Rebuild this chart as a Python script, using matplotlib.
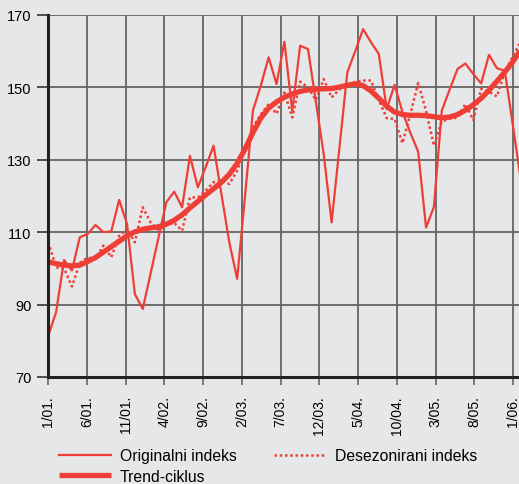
import numpy as np
import matplotlib
matplotlib.use("Agg")
import matplotlib.pyplot as plt

plt.rcParams['font.family'] = ['Liberation Sans', 'DejaVu Sans']

tick_labels = ["1/01.", "6/01.", "11/01.", "4/02.", "9/02.", "2/03.", "7/03.",
               "12/03.", "5/04.", "10/04.", "3/05.", "8/05.", "1/06."]

original = [81.4, 88.0, 102.3, 99.4, 108.6, 109.5, 112.0, 110.0, 110.2, 118.9,
            112.3, 92.9, 88.8, 98.6, 108.5, 118.3, 121.2, 116.9, 131.1, 122.4,
            128.0, 133.9, 120.5, 107.2, 97.1, 120.0, 143.6, 150.5, 158.3, 150.9,
            162.6, 143.5, 161.5, 160.6, 146.0, 131.5, 112.7, 133.5, 154.2, 160.0,
            166.1, 162.5, 159.2, 144.0, 150.7, 143.2, 137.5, 132.2, 111.3, 117.0,
            143.6, 149.4, 155.1, 156.6, 153.7, 151.1, 159.0, 155.3, 154.6, 140.0,
            125.0]

deseasonal = [107.2, 100.3, 100.0, 95.0, 101.5, 103.0, 102.6, 106.3, 103.1, 109.0,
              110.9, 107.2, 116.9, 112.7, 110.5, 112.0, 112.6, 110.4, 119.6, 119.6,
              121.5, 123.8, 124.3, 123.3, 127.0, 133.0, 139.0, 142.5, 145.4, 142.7,
              148.6, 141.7, 151.6, 150.0, 146.5, 152.3, 147.2, 149.5, 150.5, 151.5,
              151.9, 151.9, 146.5, 141.5, 141.3, 134.6, 142.6, 151.2, 143.5, 133.9,
              140.6, 141.3, 141.7, 145.4, 141.0, 149.6, 148.8, 147.5, 154.2, 158.5,
              162.5]

trend = [101.8, 101.3, 100.9, 100.7, 100.9, 101.9, 103.0, 104.5, 106.0, 107.5,
         109.0, 110.1, 110.8, 111.2, 111.5, 112.2, 113.3, 114.8, 116.7, 118.5,
         120.3, 122.0, 123.8, 126.0, 129.0, 133.0, 137.5, 141.5, 144.3, 146.0,
         147.3, 148.2, 148.9, 149.3, 149.5, 149.6, 149.7, 150.1, 150.6, 151.0,
         150.5, 149.0, 147.0, 144.8, 143.2, 142.5, 142.3, 142.3, 142.2, 141.9,
         141.6, 141.8, 142.5, 143.7, 145.2, 147.0, 149.2, 151.7, 154.2, 157.0,
         160.3]

x = np.arange(len(original))
RED = '#EE3E36'
BG = '#e6e7e9'

fig = plt.figure(figsize=(5.19, 4.85), dpi=100, facecolor=BG)
ax = fig.add_axes([48.3 / 519, 1 - 378 / 485, 1 - 48.3 / 519, (378 - 16) / 485])
ax.set_facecolor(BG)

ax.set_ylim(70, 170)
ax.set_xlim(0, (519 - 48.3) / 7.87)
ax.set_yticks(np.arange(70, 171, 20))
tick_pos = np.arange(len(tick_labels)) * 5 * (7.744 / 7.87)
ax.set_xticks(tick_pos)
ax.set_xticklabels(tick_labels, rotation=90, fontsize=10, va='top')
ax.tick_params(axis='y', labelsize=10.5, length=8, width=1.2, color='#333333', pad=4)
ax.tick_params(axis='x', length=6, width=1.2, color='#666666', pad=7)

ax.grid(True, color='#646464', linewidth=1.3)
ax.set_axisbelow(True)
for s in ['top', 'right']:
    ax.spines[s].set_visible(False)
for s in ['left', 'bottom']:
    ax.spines[s].set_color('#222222')
    ax.spines[s].set_linewidth(2.2)

l1, = ax.plot(x, original, color=RED, lw=1.6, label='Originalni indeks')
l2, = ax.plot(x, deseasonal, color=RED, lw=1.8, linestyle=(0, (1, 1.1)),
              label='Desezonirani indeks')
l3, = ax.plot(x, trend, color=RED, lw=3.8, label='Trend-ciklus', solid_capstyle='butt')

fig.legend(handles=[l1, l3, l2], loc='upper left', bbox_to_anchor=(53 / 519, 1 - 443 / 485),
           ncol=2, frameon=False, fontsize=11.3, handlelength=3.3, handletextpad=0.55,
           columnspacing=2.4, labelspacing=0.35, borderaxespad=0)

fig.savefig('out.png', dpi=100, facecolor=BG)
